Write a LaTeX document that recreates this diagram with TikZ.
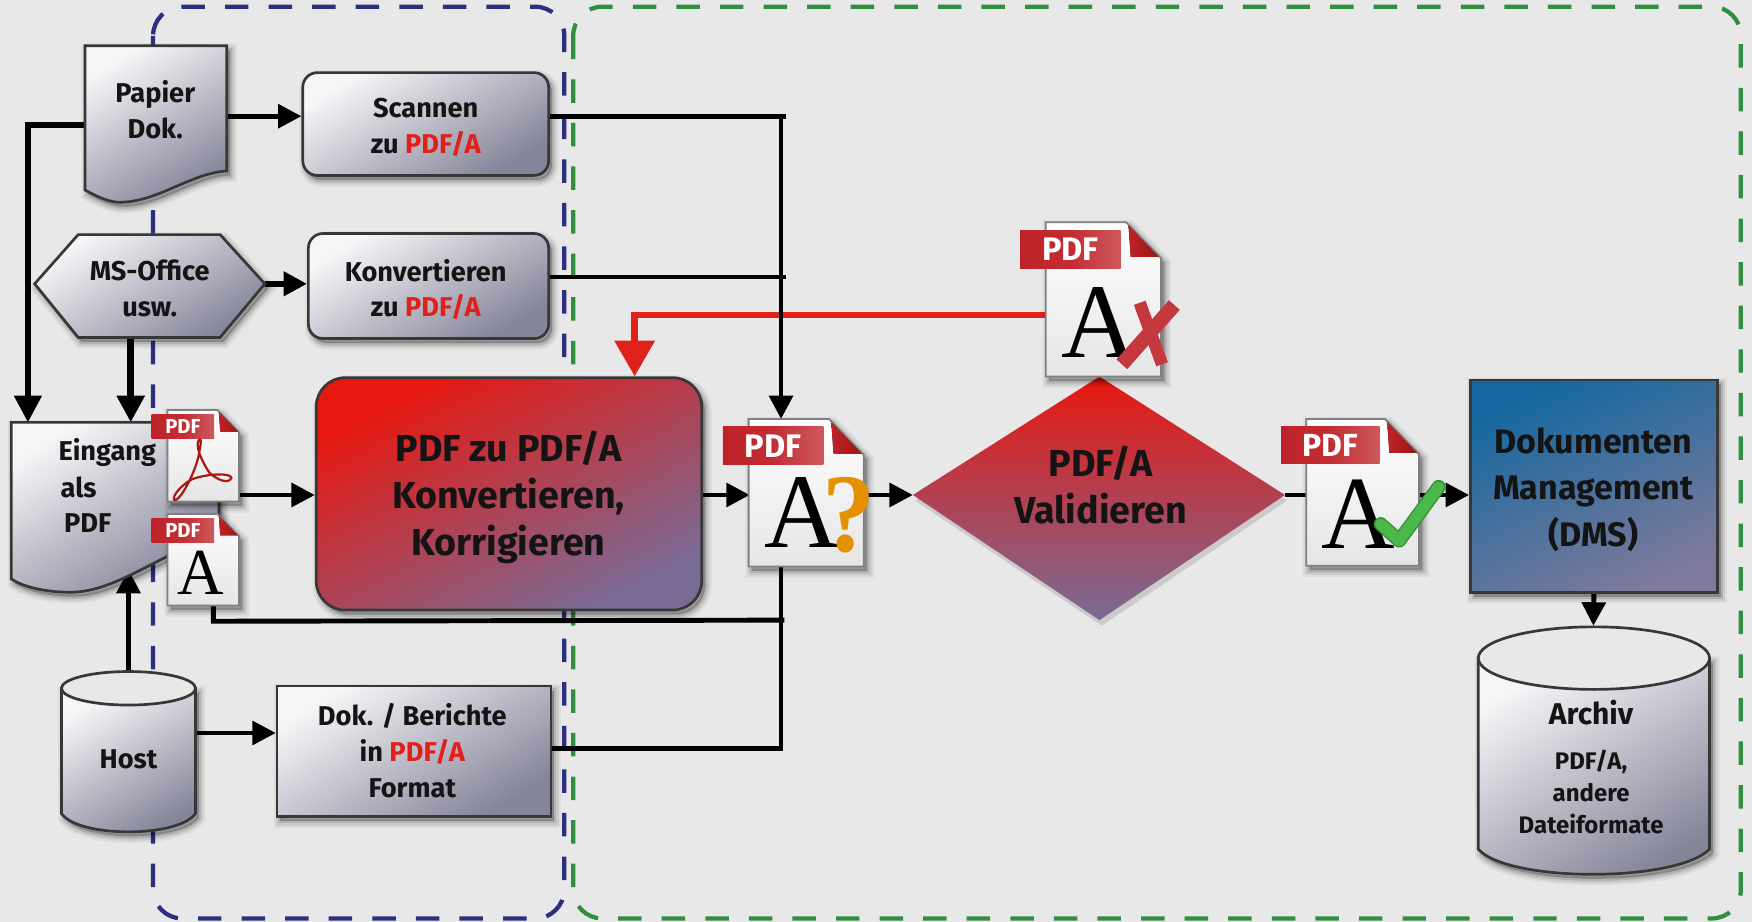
\documentclass[tikz,border=0pt]{standalone}
\usepackage{fontspec}
\setmainfont{Fira Sans}
\newfontfamily\serifA{Liberation Serif}
\usetikzlibrary{arrows.meta}
\def\ux{0.55867pt}
\definecolor{bgc}{HTML}{E8E8E8}
\definecolor{frameblue}{HTML}{2B2F7E}
\definecolor{framegreen}{HTML}{2F8F3F}
\definecolor{pdfred}{HTML}{E0201A}
\definecolor{tabred}{HTML}{BE2228}
\definecolor{inkc}{HTML}{141414}
\definecolor{gA}{HTML}{F6F6F8}
\definecolor{gB}{HTML}{CBCBD3}
\definecolor{gC}{HTML}{85859A}
\definecolor{rA}{HTML}{E8170F}
\definecolor{rB}{HTML}{C4303C}
\definecolor{rC}{HTML}{7A6B95}
\definecolor{dA}{HTML}{14689F}
\definecolor{dB}{HTML}{2F7098}
\definecolor{dC}{HTML}{7E7A9B}
\pgfdeclarelayer{under}
\pgfsetlayers{under,main}
\newcommand{\fs}[2]{\fontsize{#1}{#2}\selectfont}
\tikzset{
  softshadow/.style={
    preaction={fill=black,draw=black,fill opacity=.05,draw opacity=.05,line width=12*\ux,transform canvas={shift={(3*\ux,-4*\ux)}}},
    preaction={fill=black,draw=black,fill opacity=.08,draw opacity=.08,line width=8*\ux,transform canvas={shift={(3*\ux,-4*\ux)}}},
    preaction={fill=black,draw=black,fill opacity=.12,draw opacity=.12,line width=4*\ux,transform canvas={shift={(3*\ux,-4*\ux)}}}},
  greyfill/.style={top color=gA,middle color=gB,bottom color=gC,shading angle=32},
  shapeline/.style={draw=inkc!85!white,line width=2.4*\ux},
  box/.style={shapeline,greyfill,softshadow,inner sep=0pt},
  rbox/.style={box,rounded corners=13*\ux},
  label/.style={text=inkc,font=\bfseries\fs{13.6}{17.9},align=center,inner sep=0pt},
  biglabel/.style={text=inkc,font=\bfseries\fs{18.8}{23.6},align=center,inner sep=0pt},
  conn/.style={draw=black,line width=4.4*\ux,line join=miter},
  arr/.style={conn,-{Triangle[length=21*\ux,width=21*\ux]}},
  bigarr/.style={conn,-{Triangle[length=24*\ux,width=24*\ux]}},
  pageshape/.style={draw=black!50,line width=1.6*\ux,shading angle=0,top color=white,middle color=white,bottom color=black!10,softshadow},
  tabshape/.style={left color=tabred,right color=tabred!75!white,middle color=tabred!95!white},
  tabtext/.style={text=white,font=\bfseries\fs{16.3}{16.3},inner sep=0pt,transform shape},
  serifA/.style={text=black,font=\serifA\fs{53}{53},inner sep=0pt,anchor=base,transform shape,xscale=.98},
  frameb/.style={draw=frameblue,line width=3.8*\ux,dash pattern=on 21*\ux off 18*\ux,rounded corners=26*\ux},
  frameg/.style={draw=framegreen,line width=3.8*\ux,dash pattern=on 21*\ux off 18*\ux,rounded corners=26*\ux},
}
% name, x, y, scale, page height, extra drawing
\newcommand{\pdficon}[6]{%
\begin{scope}[shift={(#2,#3)},scale=#4]
  \path[pageshape] (0,0) -- (72,0) -- (103,32) -- (103,#5) -- (0,#5) -- cycle;
  \fill[left color=tabred,right color=pdfred!70!black] (74,3) -- (101,31) -- (76,31) -- cycle;
  \shade[tabshape] (-23,7) rectangle (67,41);
  \node[tabtext] (#1tab) at (22,24) {PDF};
  #6
\end{scope}}
\begin{document}
\begin{tikzpicture}[x=\ux,y=-\ux]
\useasboundingbox (0,0) rectangle (1568,825);

% named attachment points
\coordinate (papR) at (203,104);
\coordinate (papL) at (76,112);
\coordinate (eingA) at (25,378);
\coordinate (hexR) at (237,254);
\coordinate (hexB) at (117,302);
\coordinate (eingB) at (117,378);
\coordinate (eingU) at (115,510);
\coordinate (hostT) at (115,601);
\coordinate (hostR) at (175,656);
\coordinate (pdfOut) at (214,443);
\coordinate (aOut) at (191,540);
\coordinate (aTurn) at (191,556);
\coordinate (busT) at (699,375);
\coordinate (busB) at (699,506);
\coordinate (qIn) at (671,443);
\coordinate (qOut) at (773,443);
\coordinate (xL) at (936,282);
\coordinate (redCorner) at (568,282);
\coordinate (diaL) at (817,443);
\coordinate (diaR) at (1150,443);
\coordinate (cylT) at (1426,560);

% boxes
\node[rbox,minimum width=220*\ux,minimum height=92*\ux] (scan) at (381,111) {};
\node[rbox,minimum width=215*\ux,minimum height=94*\ux] (konv) at (383.5,256) {};
\node[box,minimum width=245*\ux,minimum height=117*\ux] (dok) at (370.5,672.5) {};
\node[rbox,rounded corners=26*\ux,minimum width=345*\ux,minimum height=208*\ux,
  top color=rA,middle color=rB,bottom color=rC,shading angle=28] (conv) at (455.5,442) {};
\node[box,minimum width=221*\ux,minimum height=190*\ux,
  top color=dA,middle color=dB,bottom color=dC,shading angle=25] (dms) at (1426.5,435) {};
\node[label] (scanT) at (381,114) {Scannen\\zu \textcolor{pdfred}{PDF/A}};
\node[label] (konvT) at (381,259) {Konvertieren\\zu \textcolor{pdfred}{PDF/A}};
\node[label] (dokT) at (369,672) {Dok. / Berichte\\in \textcolor{pdfred}{PDF/A}\\Format};
\node[biglabel] (convT) at (455,445) {PDF zu PDF/A\\Konvertieren,\\Korrigieren};
\node[biglabel,font=\bfseries\fs{17}{23.2}] (dmsT) at (1426,438) {Dokumenten\\Management\\(DMS)};

% frames and connectors on the lower layer
\begin{pgfonlayer}{under}
\fill[bgc] (0,0) rectangle (1568,825);
\draw[frameb] (137,6) rectangle (505,822);
\draw[frameg] (513,6) rectangle (1558,822);
\draw[draw=pdfred,line width=6*\ux,-{Triangle[length=32*\ux,width=35*\ux]}] (xL) -- (redCorner) -- (conv.north -| redCorner);
\draw[conn] (scan.east |- papR) -- ++(211,0);
\draw[arr] (papR) -- (scan.west |- papR);
\draw[bigarr,line width=5*\ux] (papL) -| (eingA);
\draw[arr,line width=5.5*\ux] (hexR) -- (konv.west |- hexR);
\draw[bigarr,line width=6*\ux] (hexB) -- (eingB);
\draw[conn,line width=3.6*\ux] (konv.east |- 0,248) -- ++(211,0);
\draw[arr] (699,104) -- (busT);
\draw[arr] (hostT) -- (eingU);
\draw[arr] (hostR) -- (dok.west |- hostR);
\draw[arr] (pdfOut) -- (conv.west |- pdfOut);
\draw[conn] (aOut) -- (aTurn) -- (702,555);
\draw[conn] (dok.east |- 0,670) -- (699,670) -- (busB);
\draw[arr] (conv.east |- qIn) -- (qIn);
\draw[arr] (qOut) -- (diaL);
\draw[conn] (diaR) -- (1200,443);
\draw[arr] (1200,443) -- (dms.west |- diaR);
\draw[arr] (dms.south) -- (cylT);
\end{pgfonlayer}

% Papier
\path[shapeline,greyfill,softshadow] (76,41) -- (203,41) -- (203,153) .. controls (170,155) and (140,182) .. (105,181) .. controls (95,180) and (85,175) .. (76,170) -- cycle;
\node[label] (papier) at (139,98) {Papier\\Dok.};
% MS-Office
\path[shapeline,greyfill,softshadow] (31,254) -- (70,210) -- (197,210) -- (237,254) -- (197,302) -- (70,302) -- cycle;
\node[label] (office) at (134,258) {MS-Office\\usw.};
% Eingang
\path[shapeline,greyfill,softshadow] (10,378) -- (196,378) -- (196,480) .. controls (150,490) and (105,531) .. (62,530) .. controls (40,530) and (20,525) .. (10,518) -- cycle;
\node[label,anchor=west] (eing1) at (52,405) {Eingang};
\node[label,anchor=west] (eing2) at (54,436) {als};
\node[label,anchor=west] (eing3) at (57,468) {PDF};
% Host
\path[shapeline,greyfill,softshadow] (55,616) -- (55,728) .. controls (70,750) and (160,750) .. (175,728) -- (175,616) -- cycle;
\path[shapeline,fill=bgc] (115,616) ellipse [x radius=60,y radius=15];
\node[label] (host) at (115,680) {Host};
% Archiv
\path[shapeline,greyfill,softshadow] (1323,589) -- (1323,760) .. controls (1350,790) and (1500,790) .. (1530,760) -- (1530,589) -- cycle;
\path[shapeline,fill=bgc] (1426.5,589) ellipse [x radius=103.5,y radius=28];
\node[label,font=\bfseries\fs{15}{17}] (arch) at (1424,638) {Archiv};
\node[label,font=\bfseries\fs{12}{15.9}] (archsub) at (1424,709) {PDF/A,\\andere\\Dateiformate};
% Diamond
\path[top color=rA,middle color=rB!85!rC,bottom color=rC,
  preaction={fill=black,fill opacity=.12,transform canvas={shift={(2*\ux,-5*\ux)}}}] (817,443) -- (984,337) -- (1150,443) -- (984,555) -- cycle;
\node[biglabel] (valid) at (985,434) {PDF/A\\Validieren};

% PDF icons
\pdficon{pdfA}{150}{367}{.62}{132}{
  \draw[color=pdfred!75!black,line width=1.1pt] (46,42) .. controls (38,50) and (50,75) .. (60,90) .. controls (70,100) and (88,108) .. (92,98) .. controls (92,90) and (55,92) .. (35,100) .. controls (20,108) and (5,125) .. (10,130) .. controls (18,132) and (40,90) .. (45,65) .. controls (47,52) and (50,42) .. (46,42);}
\pdficon{pdfB}{150}{460}{.62}{132}{
  \node[serifA] (pdfBa) at (48,116) {A};}
\pdficon{pdfQ}{670}{375}{1}{132}{
  \node[serifA] (pdfQa) at (48,115) {A};
  \node[text=orange!75!yellow!90!black,font=\serifA\bfseries\fs{56}{56},inner sep=0pt,anchor=base,xscale=.95] (pdfQq) at (90,119) {?};}
\pdficon{pdfX}{936}{199}{1}{138}{
  \node[serifA] (pdfXa) at (48,121) {A};
  \draw[draw=tabred!90!white,line width=13*\ux] (115,74) -- (68,127);
  \draw[draw=tabred!90!white,line width=11*\ux] (84,72) -- (104,127);}
\pdficon{pdfOK}{1169}{375}{.98}{134}{
  \node[serifA] (pdfOKa) at (48,118) {A};
  \draw[draw=green!45!black!80!white,line width=12.5*\ux,line cap=round,line join=round] (68,96) -- (85,111) -- (121,62);
  \draw[draw=green!60!black!70!white,line width=10*\ux,line cap=round,line join=round] (68,96) -- (85,111) -- (121,62);}
\end{tikzpicture}
\end{document}
